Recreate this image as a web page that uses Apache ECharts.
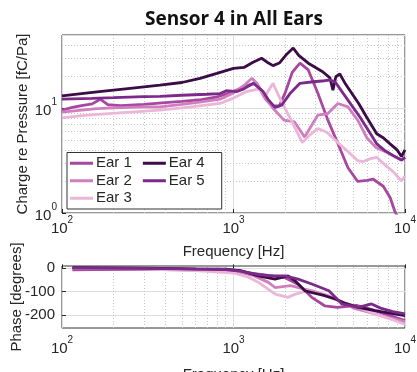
<!DOCTYPE html>
<html>
<head>
<meta charset="utf-8">
<script src="https://cdn.jsdelivr.net/npm/echarts@6/dist/echarts.min.js"></script>
<style>
html, body { margin: 0; padding: 0; background: #fff; }
#chart { width: 417px; height: 372px; }
</style>
</head>
<body>
<div id="chart"></div>
<script>
var chart = echarts.init(document.getElementById('chart'));

var earNames = ['Ear 1', 'Ear 2', 'Ear 3', 'Ear 4', 'Ear 5'];
var earColors = ['#a8479f', '#cf7fbf', '#ebb6d7', '#3b0c45', '#7b2a8a'];

// magnitude [Hz, fC/Pa]
var mag1 = [[100,9.6],[115,10.2],[130,10.6],[150,11.0],[167,12.2],[185,10.8],[220,10.6],[300,10.9],[400,11.3],[500,11.6],[650,12.1],[800,12.8],[950,14.0],[1100,15.5],[1250,16.8],[1350,17.3],[1450,15.0],[1550,12.0],[1700,10.6],[1850,10.5],[2000,14],[2200,22],[2440,26.9],[2730,23.2],[3100,14],[3550,7.7],[4060,4.6],[4650,2.7],[5300,2.0],[6000,2.05],[6530,2.1],[7470,1.8],[8200,1.4],[8700,1.05],[9300,0.85],[10000,0.6]];
var mag2 = [[100,9.2],[130,9.6],[160,9.9],[200,10.1],[300,10.3],[372,10.3],[500,10.9],[650,11.5],[835,12.2],[1000,14.0],[1150,16.5],[1280,19.3],[1380,17],[1500,13],[1700,10],[1970,7.7],[2270,7.4],[2600,5.3],[2800,6.5],[3100,8.6],[3550,8.9],[4060,11.1],[4650,10.3],[5300,7.7],[6000,5.2],[6800,4.2],[7800,3.8],[8800,3.4],[9500,3.2],[10000,3.4]];
var mag3 = [[100,8.1],[130,8.5],[170,8.8],[250,9.2],[372,9.6],[500,10.1],[650,10.6],[835,11.1],[1000,12.5],[1200,14.5],[1400,15.2],[1550,13.5],[1700,17.3],[1800,14],[1930,11.1],[2170,7.7],[2520,4.7],[2800,5.6],[3100,6.4],[3500,5.9],[4060,4.7],[4700,3.8],[5300,3.16],[5700,3.1],[6300,3.3],[6840,3.4],[7600,2.9],[8500,2.5],[9500,2.03],[10000,2.25]];
var mag4 = [[100,13.1],[130,13.8],[170,14.5],[250,15.5],[372,16.6],[500,17.6],[638,19.3],[800,21.5],[1000,24],[1150,24.5],[1300,27.5],[1459,30],[1600,27],[1700,25.5],[1850,27],[2050,33],[2230,37.5],[2400,32],[2730,26.9],[3310,22.3],[3650,19.5],[3800,14.9],[3950,20],[4170,21.2],[4500,17],[5370,11.1],[5980,8.2],[6840,5.7],[7500,5.2],[8180,4.57],[9000,4.0],[9540,3.46],[10000,4.0]];
var mag5 = [[100,12.2],[150,12.4],[200,12.6],[300,12.9],[372,13.0],[500,13.3],[700,13.6],[835,13.8],[910,14.7],[1040,14.4],[1150,15.3],[1306,17.3],[1490,14.4],[1600,12],[1745,10.2],[1910,10.7],[2150,14],[2440,17.3],[2920,17.9],[3400,18.3],[3650,18.6],[3910,17.9],[4370,13.8],[5470,8.2],[5980,6.5],[6840,4.57],[7700,3.9],[8560,3.53],[9540,3.2],[10000,3.4]];

// phase [Hz, degrees]
var ph1 = [[115,-6],[200,-4],[400,-5],[700,-8],[1000,-12],[1300,-22],[1600,-30],[2000,-40],[2400,-70],[2860,-124],[3400,-160],[4040,-167],[4600,-162],[5200,-158],[6000,-170],[6700,-181],[8000,-200],[10000,-223]];
var ph2 = [[115,2],[300,-1],[600,-5],[1000,-12],[1300,-30],[1600,-60],[1745,-82],[2150,-74],[2600,-89],[3000,-100],[3500,-115],[4200,-140],[5000,-170],[6000,-185],[7500,-205],[10000,-228]];
var ph3 = [[115,0],[300,-3],[600,-10],[1000,-20],[1200,-35],[1400,-60],[1750,-110],[2080,-124],[2300,-110],[2700,-95],[3200,-110],[3800,-130],[4500,-150],[5500,-170],[6700,-195],[8500,-220],[10000,-240]];
var ph4 = [[115,3],[300,1],[600,-2],[900,-3],[1100,-10],[1396,-32],[1745,-46],[2080,-32],[2300,-55],[2610,-96],[3410,-117],[3920,-131],[4500,-150],[5340,-167],[6670,-181],[8000,-190],[10000,-202]];
var ph5 = [[115,1],[300,0],[600,-3],[900,-5],[1100,-12],[1396,-27],[1650,-32],[1990,-32],[2380,-46],[2860,-67],[3600,-96],[4290,-152],[5340,-167],[6380,-152],[7200,-170],[8500,-185],[10000,-195]];

var magData = [mag1, mag2, mag3, mag4, mag5];
var phData = [ph1, ph2, ph3, ph4, ph5];

var freqMinor = [200,300,400,500,600,700,800,900,2000,3000,4000,5000,6000,7000,8000,9000];
var magMinor = [2,3,4,5,6,7,8,9,20,30,40];
var phaseTicks = [-200, -100, 0];

var txt = '#262626';
var font = 'Liberation Sans';

function powLabel(v) {
    var e = Math.round(Math.log(v) / Math.LN10);
    if (Math.abs(Math.pow(10, e) - v) > 1e-6 * v) return '';
    return '{b|10}{s|' + e + '}';
}
var powRich = {
    b: { fontSize: 15, fontFamily: font, color: txt, padding: [6, 0, 0, 0] },
    s: { fontSize: 10, fontFamily: font, color: txt, verticalAlign: 'top', padding: [0, 0, 6, 0] }
};

function freqAxis(idx, nameGap, margin) {
    return {
        type: 'log', logBase: 10, gridIndex: idx, min: 100, max: 10000,
        name: 'Frequency [Hz]', nameLocation: 'middle', nameGap: nameGap, nameMoveOverlap: false,
        nameTextStyle: { fontSize: 15, fontFamily: font, color: txt },
        axisLine: { show: false },
        axisTick: { inside: true, length: 4, lineStyle: { color: txt } },
        axisLabel: { formatter: powLabel, rich: powRich, margin: margin },
        splitLine: { show: true, lineStyle: { color: '#dedede', width: 1 } }
    };
}

function minorLines(items) {
    return {
        silent: true, symbol: 'none', animation: false, z: 1, label: { show: false },
        lineStyle: { color: '#c8c8c8', type: [1, 2], width: 1 },
        data: items
    };
}

var series = [];
// dotted minor grid lines
series.push({
    type: 'line', xAxisIndex: 0, yAxisIndex: 0, data: [], z: 1, silent: true,
    markLine: minorLines(freqMinor.map(function (f) { return { xAxis: f }; })
        .concat(magMinor.map(function (v) { return { yAxis: v }; })))
});
series.push({
    type: 'line', xAxisIndex: 1, yAxisIndex: 1, data: [], z: 1, silent: true,
    markLine: minorLines(freqMinor.map(function (f) { return { xAxis: f }; }))
});
for (var i = 0; i < 5; i++) {
    series.push({
        name: earNames[i], type: 'line', xAxisIndex: 0, yAxisIndex: 0,
        data: magData[i], symbol: 'none', z: 3 + i,
        lineStyle: { width: 2.8, color: earColors[i] }, itemStyle: { color: earColors[i] }
    });
    series.push({
        name: earNames[i], type: 'line', xAxisIndex: 1, yAxisIndex: 1,
        data: phData[i], symbol: 'none', z: 3 + i,
        lineStyle: { width: 2.8, color: earColors[i] }, itemStyle: { color: earColors[i] }
    });
}

var option = {
    animation: false,
    backgroundColor: '#fff',
    title: {
        text: 'Sensor 4 in All Ears', left: 229, top: 5, textAlign: 'center',
        textStyle: { fontFamily: 'Open Sans', fontWeight: 'bold', fontSize: 19, color: '#111' }
    },
    legend: {
        data: earNames, orient: 'vertical', left: 67, top: 152.5, height: 56, z: 20,
        icon: 'rect', itemWidth: 23, itemHeight: 3, itemGap: 0,
        itemStyle: { borderWidth: 0 },
        padding: [2, 6, 2, 3], backgroundColor: '#fff',
        borderColor: '#333', borderWidth: 1,
        textStyle: { fontSize: 15, fontFamily: font, color: txt, lineHeight: 17.5, padding: [0, 11, 0, -2] }
    },
    grid: [
        { left: 62, right: 12, top: 35, height: 178, outerBoundsMode: 'none', show: true, borderColor: '#333', borderWidth: 1, backgroundColor: '#fff' },
        { left: 62, right: 12, top: 266, height: 62, outerBoundsMode: 'none', show: true, borderColor: '#333', borderWidth: 1, backgroundColor: '#fff' }
    ],
    xAxis: [freqAxis(0, 31, 2), freqAxis(1, 39, 7)],
    yAxis: [
        {
            type: 'log', logBase: 10, gridIndex: 0, min: 1, max: 50,
            name: 'Charge re Pressure [fC/Pa]', nameLocation: 'middle', nameGap: 32, nameMoveOverlap: false,
            nameTextStyle: { fontSize: 15, fontFamily: font, color: txt },
            axisLine: { show: false },
            axisTick: { inside: true, length: 4, lineStyle: { color: txt } },
            axisLabel: { formatter: powLabel, rich: powRich, margin: 5, showMaxLabel: false },
            splitLine: { show: true, lineStyle: { color: '#dedede', width: 1 } }
        },
        {
            type: 'value', gridIndex: 1, min: -255, max: 10,
            name: 'Phase [degrees]', nameLocation: 'middle', nameGap: 38, nameMoveOverlap: false,
            nameTextStyle: { fontSize: 15, fontFamily: font, color: txt },
            axisLine: { show: false },
            axisTick: { inside: true, length: 4, lineStyle: { color: txt }, customValues: phaseTicks },
            axisLabel: { fontSize: 15, fontFamily: font, color: txt, margin: 7, customValues: phaseTicks },
            splitLine: { show: true, lineStyle: { color: '#dedede', width: 1 } }
        }
    ],
    series: series
};
chart.setOption(option);
</script>
</body>
</html>
